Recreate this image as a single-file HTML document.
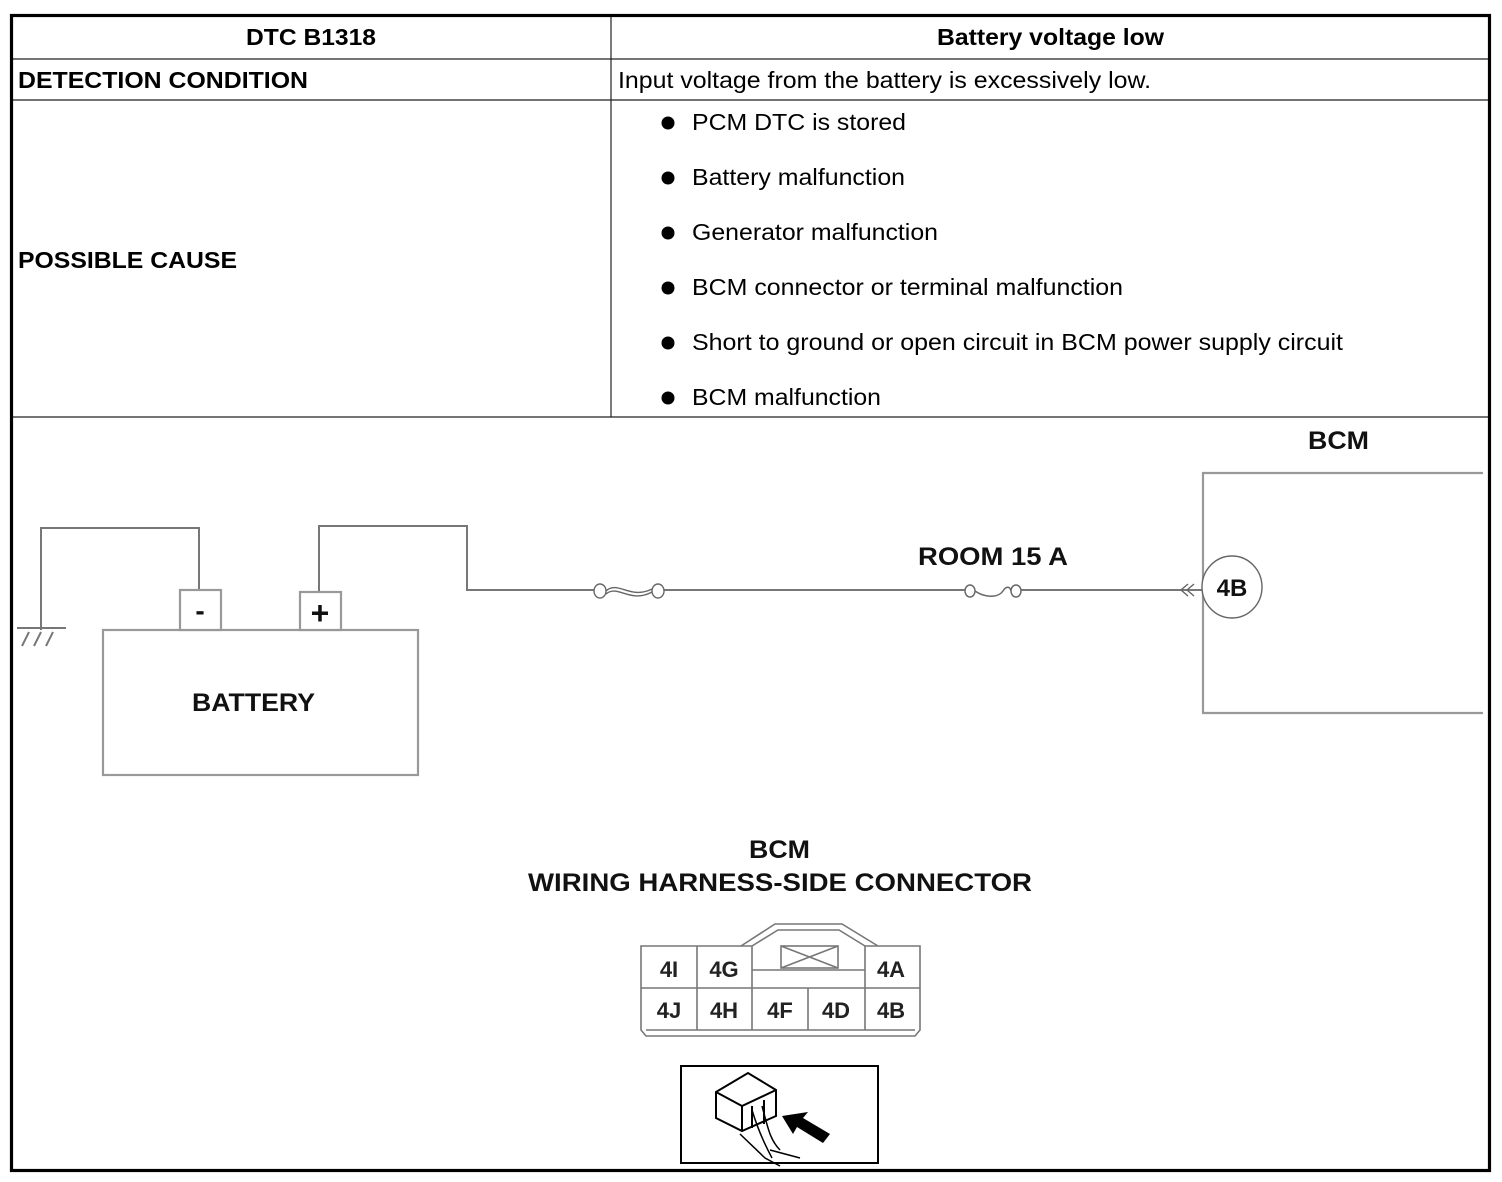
<!DOCTYPE html>
<html><head><meta charset="utf-8"><style>
html,body{margin:0;padding:0;background:#fff;}
svg{display:block;}
text{font-family:"Liberation Sans",Arial,sans-serif;}
</style></head><body>
<svg width="1502" height="1182" viewBox="0 0 1502 1182" xmlns="http://www.w3.org/2000/svg">
<rect width="1502" height="1182" fill="#fff"/>
<g stroke="#222" stroke-width="1.2" fill="none">
<line x1="12" y1="59" x2="1489" y2="59"/>
<line x1="12" y1="100" x2="1489" y2="100"/>
<line x1="12" y1="417" x2="1489" y2="417"/>
<line x1="611" y1="16" x2="611" y2="417"/>
</g>
<rect x="11.5" y="15.5" width="1478" height="1155" fill="none" stroke="#000" stroke-width="3.2"/>
<g font-size="23" fill="#000">
<text x="246" y="45" font-weight="bold" textLength="130" lengthAdjust="spacingAndGlyphs">DTC B1318</text>
<text x="937" y="45" font-weight="bold" textLength="227" lengthAdjust="spacingAndGlyphs">Battery voltage low</text>
<text x="18" y="88" font-weight="bold" textLength="290" lengthAdjust="spacingAndGlyphs">DETECTION CONDITION</text>
<text x="618" y="88" textLength="533" lengthAdjust="spacingAndGlyphs">Input voltage from the battery is excessively low.</text>
<text x="18" y="268" font-weight="bold" textLength="219" lengthAdjust="spacingAndGlyphs">POSSIBLE CAUSE</text>
<text x="692" y="130" textLength="214" lengthAdjust="spacingAndGlyphs">PCM DTC is stored</text>
<text x="692" y="185" textLength="213" lengthAdjust="spacingAndGlyphs">Battery malfunction</text>
<text x="692" y="240" textLength="246" lengthAdjust="spacingAndGlyphs">Generator malfunction</text>
<text x="692" y="295" textLength="431" lengthAdjust="spacingAndGlyphs">BCM connector or terminal malfunction</text>
<text x="692" y="350" textLength="651" lengthAdjust="spacingAndGlyphs">Short to ground or open circuit in BCM power supply circuit</text>
<text x="692" y="405" textLength="189" lengthAdjust="spacingAndGlyphs">BCM malfunction</text>
</g>
<g fill="#000">
<circle cx="668" cy="123" r="6.5"/><circle cx="668" cy="178" r="6.5"/><circle cx="668" cy="233" r="6.5"/>
<circle cx="668" cy="288" r="6.5"/><circle cx="668" cy="343" r="6.5"/><circle cx="668" cy="398" r="6.5"/>
</g>
<g stroke="#777" stroke-width="2" fill="none">
<polyline points="41,630 41,528 199,528 199,590"/>
<polyline points="319,592 319,526 467,526 467,590 594,590"/>
<line x1="664" y1="590" x2="965" y2="590"/>
<line x1="1021" y1="590" x2="1203" y2="590"/>
<line x1="17" y1="628" x2="66" y2="628"/>
<line x1="22" y1="646" x2="29" y2="632"/><line x1="34" y1="646" x2="41" y2="632"/><line x1="46" y1="646" x2="53" y2="632"/>
</g>
<g stroke="#999" stroke-width="2.2" fill="#fff">
<rect x="103" y="630" width="315" height="145"/>
<rect x="180" y="590" width="41" height="40"/>
<rect x="300" y="592" width="41" height="38"/>
<polyline points="1483,473 1203,473 1203,713 1483,713" fill="none"/>
</g>
<g stroke="#666" stroke-width="1.4" fill="#fff">
<ellipse cx="600" cy="591" rx="6" ry="7"/><ellipse cx="658" cy="591" rx="6" ry="7"/>
<path d="M606,591 C618,580 630,600 652,589" fill="none"/><path d="M606,594 C618,584 630,604 652,592" fill="none"/>
<ellipse cx="970" cy="591" rx="5" ry="6"/><ellipse cx="1016" cy="591" rx="5" ry="6"/>
<path d="M975,591 C985,598 998,598 1003,591 C1006,586 1010,586 1011,591" fill="none"/>
<polyline points="1188,584 1181,590 1188,596" fill="none"/><polyline points="1194,584 1187,590 1194,596" fill="none"/>
<ellipse cx="1232" cy="587" rx="30" ry="31"/>
</g>
<g fill="#111" font-weight="bold">
<text x="1232" y="596" text-anchor="middle" font-size="24">4B</text>
<text x="1308" y="449" font-size="25" textLength="61" lengthAdjust="spacingAndGlyphs">BCM</text>
<text x="918" y="565" font-size="25" textLength="150" lengthAdjust="spacingAndGlyphs">ROOM 15 A</text>
<text x="192" y="711" font-size="25" textLength="123" lengthAdjust="spacingAndGlyphs">BATTERY</text>
<text x="200" y="620" text-anchor="middle" font-size="28">-</text>
<text x="320" y="624" text-anchor="middle" font-size="32">+</text>
<text x="749" y="858" font-size="25" textLength="61" lengthAdjust="spacingAndGlyphs">BCM</text>
<text x="528" y="891" font-size="25" textLength="504" lengthAdjust="spacingAndGlyphs">WIRING HARNESS-SIDE CONNECTOR</text>
</g>
<g stroke="#777" stroke-width="1.6" fill="none">
<path d="M752,946 H641 V1030 L646,1036 H915 L920,1030 V946 H865"/>
<path d="M741,946 L775,924 H842 L878,946"/>
<path d="M752,946 L778,930 H839 L865,946"/>
<line x1="641" y1="988" x2="920" y2="988"/>
<line x1="697" y1="946" x2="697" y2="1030"/>
<line x1="752" y1="946" x2="752" y2="1030"/>
<line x1="865" y1="946" x2="865" y2="1030"/>
<line x1="808" y1="988" x2="808" y2="1030"/>
<line x1="752" y1="970" x2="865" y2="970"/>
<rect x="781" y="946" width="57" height="22"/>
<path d="M781,946 L838,968 M838,946 L781,968"/>
<line x1="646" y1="1030" x2="915" y2="1030"/>
</g>
<g font-size="22" fill="#222" text-anchor="middle" font-weight="bold">
<text x="669" y="977">4I</text><text x="724" y="977">4G</text><text x="891" y="977">4A</text>
<text x="669" y="1018">4J</text><text x="724" y="1018">4H</text><text x="780" y="1018">4F</text><text x="836" y="1018">4D</text><text x="891" y="1018">4B</text>
</g>
<rect x="681" y="1066" width="197" height="97" fill="#fff" stroke="#000" stroke-width="2"/>
<g stroke="#000" stroke-width="2" fill="#fff">
<path d="M716,1092 L748,1073 L776,1090 L776,1116 L742,1131 L716,1118 Z"/>
<path d="M716,1092 L742,1106 L776,1090 M742,1106 L742,1131" fill="none"/>
<path d="M752,1106 L752,1128 M764,1100 L764,1124" fill="none"/>
<path d="M752,1110 C758,1130 765,1145 772,1158 M762,1106 C768,1128 770,1140 780,1150 M740,1134 L765,1158 L780,1166 M770,1150 L800,1158" fill="none" stroke-width="1.5"/>
</g>
<path d="M782,1116 L808,1112 L803,1118 L830,1134 L823,1143 L797,1127 L793,1134 Z" fill="#000"/>
</svg>
</body></html>
